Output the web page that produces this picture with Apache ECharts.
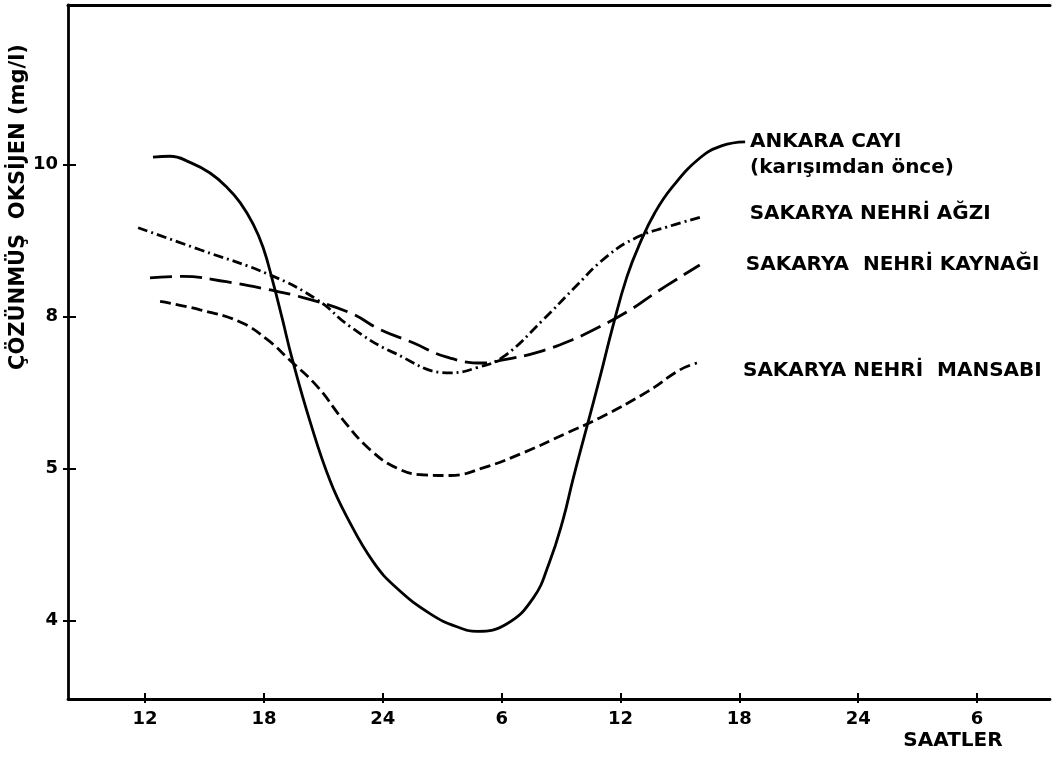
<!DOCTYPE html>
<html>
<head>
<meta charset="utf-8">
<script src="https://cdn.jsdelivr.net/npm/echarts@6/dist/echarts.min.js"></script>
<style>
  html, body { margin: 0; padding: 0; background: #fff; }
  #chart { width: 1057px; height: 758px; }
</style>
</head>
<body>
<div id="chart"></div>
<script>
// Hours are counted continuously from noon of day one (30 = 06:00 next day).
const xTickValues = [12, 18, 24, 30, 36, 42, 48, 54];
const xTickLabels = ['12', '18', '24', '6', '12', '18', '24', '6'];
const yTickValues = [4, 6, 8, 10];
const yTickLabels = ['4', '5', '8', '10'];

// Dissolved oxygen (mg/l) over the day
const ankaraHours = [12.4, 13.26, 14.27, 15.28, 16.14, 16.8, 17.45, 17.96, 18.46, 18.92, 19.42, 20.33, 21.34, 22.2, 23.5, 24.7, 26.4, 27.75, 28.76, 30.27, 31.6, 32.4, 33.1, 33.6, 34.3, 34.97, 35.62, 36.33, 36.99, 37.74, 38.6, 40.02, 41.13, 42.29];
const ankaraValues = [10.1, 10.11, 10.03, 9.89, 9.70, 9.50, 9.22, 8.91, 8.45, 7.98, 7.45, 6.62, 5.84, 5.36, 4.78, 4.43, 4.09, 3.92, 3.86, 3.96, 4.30, 4.76, 5.33, 5.86, 6.55, 7.21, 7.88, 8.53, 8.97, 9.37, 9.70, 10.09, 10.25, 10.30];

const agziHours = [11.65, 14.78, 18.3, 20.7, 22.35, 24.52, 27.4, 28.76, 30.07, 32.1, 33.6, 35.3, 36.8, 38.35, 40.2];
const agziValues = [9.17, 8.88, 8.55, 8.22, 7.87, 7.53, 7.26, 7.33, 7.47, 7.96, 8.36, 8.79, 9.04, 9.18, 9.32];

const kaynagiHours = [12.25, 13.9, 16.1, 18.16, 19.98, 22.35, 23.86, 25.5, 27.2, 29.06, 30.07, 31.8, 33.6, 34.97, 36.5, 37.8, 40.0];
const kaynagiValues = [8.51, 8.53, 8.46, 8.36, 8.25, 8.05, 7.83, 7.66, 7.47, 7.39, 7.43, 7.53, 7.70, 7.87, 8.09, 8.32, 8.68];

const mansabiHours = [12.76, 14.78, 16.8, 18.16, 19.3, 20.7, 22.0, 23.36, 24.7, 26.0, 27.4, 29.06, 31.1, 33.3, 34.97, 37.34, 39.0, 39.86];
const mansabiValues = [8.2, 8.09, 7.93, 7.70, 7.43, 7.08, 6.64, 6.25, 6.01, 5.92, 5.91, 6.01, 6.21, 6.47, 6.67, 7.01, 7.30, 7.39];

const seriesNames = ['ANKARA CAYI', 'SAKARYA NEHRİ AĞZI', 'SAKARYA  NEHRİ KAYNAĞI', 'SAKARYA NEHRİ  MANSABI'];

const FONT = 'DejaVu Sans';
const INK = '#000';

function pairs(xs, ys) { return xs.map((x, i) => [x, ys[i]]); }

function lineSeries(name, xs, ys, dash, labelText, labelOffset, labelDistance) {
  return {
    type: 'line',
    name: name,
    data: pairs(xs, ys),
    smooth: 0.45,
    showSymbol: false,
    symbol: 'none',
    clip: false,
    lineStyle: { color: INK, width: 2.8, type: dash },
    endLabel: {
      show: true,
      formatter: labelText,
      color: INK,
      fontFamily: FONT,
      fontWeight: 'bold',
      fontSize: 20,
      lineHeight: 26,
      align: 'left',
      distance: labelDistance,
      offset: labelOffset
    }
  };
}

const xMin = 8.11, xMax = 57.68;
const yMin = 2.97, yMax = 12.1;

const chart = echarts.init(document.getElementById('chart'), null, { renderer: 'canvas' });

const tickLabelStyle = {
  color: INK, fontFamily: FONT, fontWeight: 'bold', fontSize: 18
};

chart.setOption({
  animation: false,
  backgroundColor: '#fff',
  grid: { left: 68, top: 5, right: 7, bottom: 59, containLabel: false },
  xAxis: [
    {
      type: 'value', min: xMin, max: xMax, position: 'bottom',
      splitLine: { show: false },
      axisLine: { show: true, lineStyle: { color: INK, width: 2.8 } },
      axisTick: { show: true, inside: false, length: 4, customValues: xTickValues, lineStyle: { color: INK, width: 2 } },
      axisLabel: Object.assign({
        show: true, margin: 11, customValues: xTickValues,
        formatter: (v) => xTickLabels[xTickValues.indexOf(Math.round(v))]
      }, tickLabelStyle)
    },
    {
      type: 'value', min: xMin, max: xMax, position: 'bottom', gridIndex: 0,
      splitLine: { show: false },
      axisLine: { show: false },
      axisTick: { show: true, inside: true, length: 6, customValues: xTickValues, lineStyle: { color: INK, width: 2 } },
      axisLabel: { show: false }
    },
    {
      // top frame line
      type: 'value', min: xMin, max: xMax, position: 'top',
      splitLine: { show: false },
      axisLine: { show: true, lineStyle: { color: INK, width: 3 } },
      axisTick: { show: false },
      axisLabel: { show: false }
    }
  ],
  yAxis: [
    {
      type: 'value', min: yMin, max: yMax, position: 'left',
      splitLine: { show: false },
      axisLine: { show: true, lineStyle: { color: INK, width: 2.8 } },
      axisTick: { show: true, inside: false, length: 5, customValues: yTickValues, lineStyle: { color: INK, width: 2 } },
      axisLabel: Object.assign({
        show: true, margin: 10, customValues: yTickValues,
        formatter: (v) => yTickLabels[yTickValues.indexOf(Math.round(v))]
      }, tickLabelStyle)
    },
    {
      type: 'value', min: yMin, max: yMax, position: 'left',
      splitLine: { show: false },
      axisLine: { show: false },
      axisTick: { show: true, inside: true, length: 8, customValues: yTickValues, lineStyle: { color: INK, width: 2 } },
      axisLabel: { show: false }
    }
  ],
  series: [
    lineSeries(seriesNames[0], ankaraHours, ankaraValues, 'solid',
      seriesNames[0] + '\n(karışımdan önce)', [0, 13], 5),
    lineSeries(seriesNames[1], agziHours, agziValues, [10, 4, 2, 4],
      seriesNames[1], [0, -3], 46),
    lineSeries(seriesNames[2], kaynagiHours, kaynagiValues, [22, 8],
      seriesNames[2], [0, 0], 46),
    lineSeries(seriesNames[3], mansabiHours, mansabiValues, [11, 5],
      seriesNames[3], [0, 8], 46)
  ],
  graphic: [
    {
      type: 'text',
      x: 19, y: 207,
      rotation: Math.PI / 2,
      style: {
        text: 'ÇÖZÜNMÜŞ  OKSİJEN (mg/l)',
        fill: INK,
        font: 'bold 21px "DejaVu Sans"',
        align: 'center',
        verticalAlign: 'middle'
      }
    },
    {
      type: 'text',
      x: 953, y: 741,
      style: {
        text: 'SAATLER',
        fill: INK,
        font: 'bold 20px "DejaVu Sans"',
        align: 'center',
        verticalAlign: 'middle'
      }
    }
  ]
});
</script>
</body>
</html>
